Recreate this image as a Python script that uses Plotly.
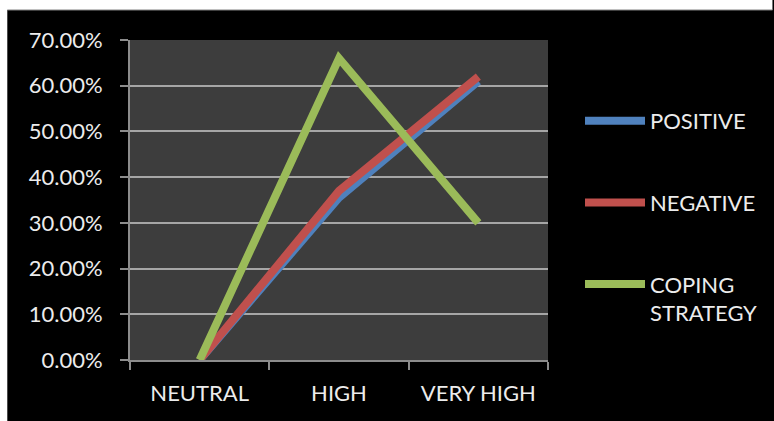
import plotly.graph_objects as go

categories = ["NEUTRAL", "HIGH", "VERY HIGH"]
positive = [0.0, 0.355, 0.61]
negative = [0.0, 0.37, 0.62]
coping = [0.0, 0.66, 0.30]
y_ticks = [0, 0.1, 0.2, 0.3, 0.4, 0.5, 0.6, 0.7]

FONT = "Lato"
TXT = "#ececec"
FS = 22

fig = go.Figure()
series = [("POSITIVE", positive, "#4F81BD"),
          ("NEGATIVE", negative, "#C0504D"),
          ("COPING<br>STRATEGY", coping, "#9BBB59")]
for i, (name, vals, col) in enumerate(series):
    fig.add_trace(go.Scatter(x=categories, y=vals, name=name, mode="lines",
                             line=dict(color=col, width=8),
                             legendgroup=str(i)))

W, H = 774, 421
L, R, T, B = 130, 225, 40, 61
pw, ph = W - L - R, H - T - B

def px(x):
    return (x - L) / pw

def py(y):
    return (H - B - y) / ph

shapes = [
    dict(type="rect", xref="paper", yref="paper", x0=px(0), x1=px(W), y0=py(10), y1=py(-2),
         fillcolor="white", line=dict(width=0), layer="above"),
    dict(type="rect", xref="paper", yref="paper", x0=px(-2), x1=px(7), y0=py(H + 2), y1=py(-2),
         fillcolor="white", line=dict(width=0), layer="above"),
    dict(type="line", xref="paper", yref="paper", x0=px(7), x1=px(W), y0=py(10), y1=py(10),
         line=dict(color="#808080", width=1), layer="above"),
]

fig.update_layout(
    width=W, height=H,
    margin=dict(l=L, r=R, t=T, b=B),
    paper_bgcolor="black",
    plot_bgcolor="#3d3d3d",
    font=dict(family=FONT, size=FS, color=TXT),
    shapes=shapes,
    showlegend=True,
    legend=dict(x=px(580), y=py(100), xanchor="left", yanchor="top",
                bgcolor="rgba(0,0,0,0)", tracegroupgap=50, valign="top",
                font=dict(family=FONT, size=FS, color=TXT),
                itemwidth=60),
    xaxis=dict(type="category", range=[-0.5, 2.5], showgrid=False,
               showline=True, linecolor="#8c8c8c", linewidth=2,
               ticks="outside", tickson="boundaries", ticklen=8, tickcolor="#8c8c8c",
               tickwidth=2, ticklabelstandoff=13,
               tickfont=dict(family=FONT, size=FS, color=TXT)),
    yaxis=dict(range=[0, 0.7], tickvals=y_ticks, tickformat=".2%",
               showgrid=True, gridcolor="#a6a6a6", gridwidth=2,
               showline=True, linecolor="#8c8c8c", linewidth=2,
               ticks="outside", ticklen=8, tickcolor="#8c8c8c", tickwidth=2,
               ticklabelstandoff=13, zeroline=False,
               tickfont=dict(family=FONT, size=FS, color=TXT)),
)

fig.write_html("out.html")
